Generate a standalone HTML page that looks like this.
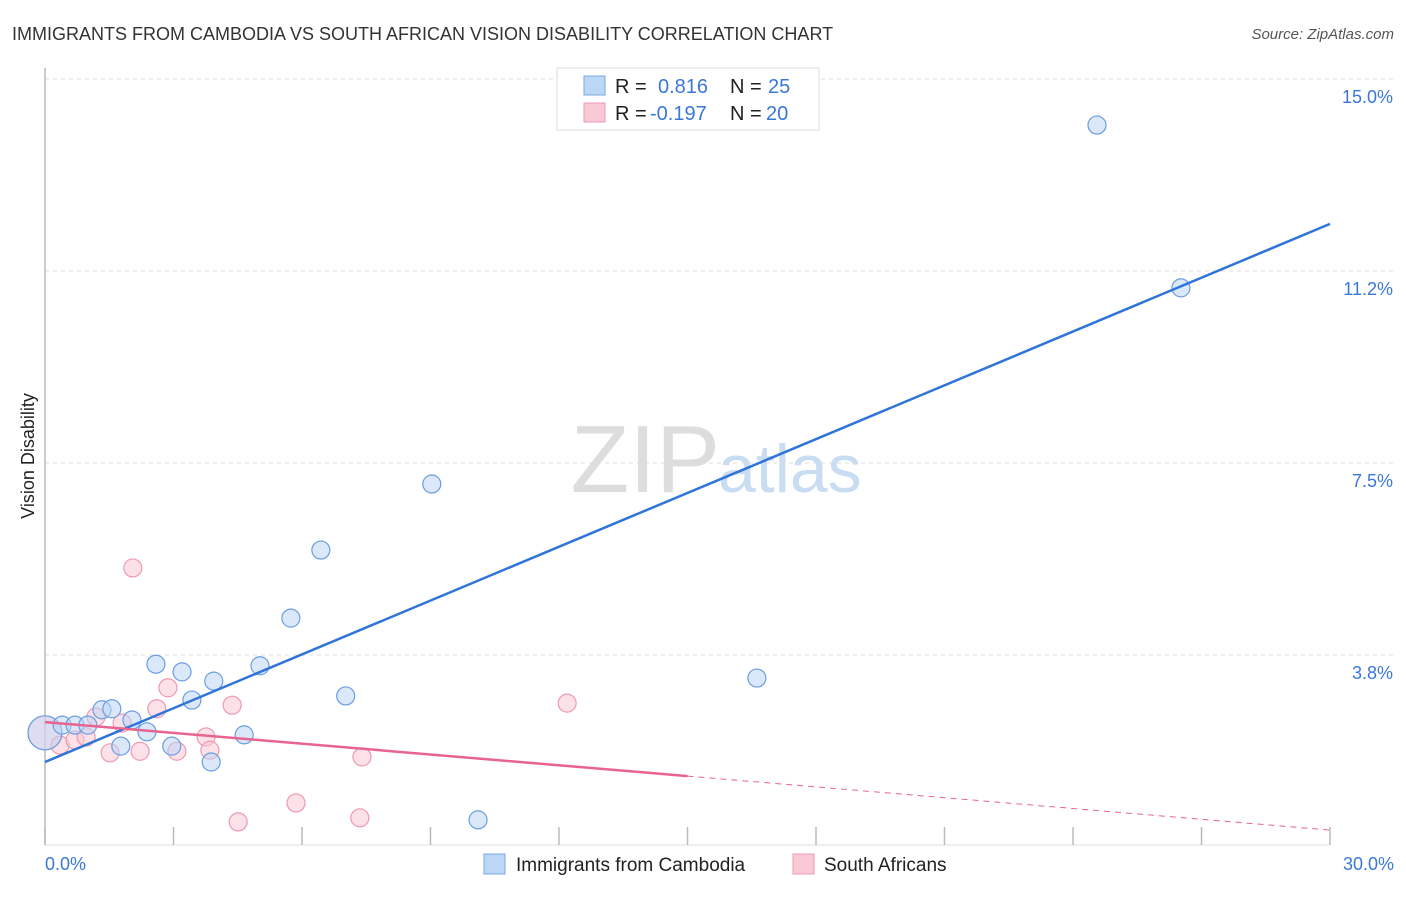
<!DOCTYPE html>
<html><head><meta charset="utf-8"><style>
body{margin:0;background:#fff;font-family:"Liberation Sans",sans-serif;}
svg text{font-family:"Liberation Sans",sans-serif;}
</style></head><body>
<svg id="chart" width="1406" height="892">
<text x="12" y="40" font-size="18" fill="#333">IMMIGRANTS FROM CAMBODIA VS SOUTH AFRICAN VISION DISABILITY CORRELATION CHART</text>
<text x="1394" y="39" font-size="15" fill="#555" font-style="italic" text-anchor="end">Source: ZipAtlas.com</text>
<text x="34" y="456" font-size="18" fill="#222" text-anchor="middle" transform="rotate(-90 34 456)">Vision Disability</text>
<text x="720" y="492" font-size="96" fill="#ddd" text-anchor="end" font-family="Liberation Serif">ZIP</text>
<text x="718" y="492" font-size="68" fill="#c8dcf2">atlas</text>
<g id="grid"></g>
<line x1="45" y1="68" x2="45" y2="845" stroke="#bbb" stroke-width="1.5"/>
<line x1="45" y1="845" x2="1330" y2="845" stroke="#ddd" stroke-width="1"/>
<g id="xticks"></g>
<g id="points"></g>
<g id="trends"></g>
<text x="45" y="870" font-size="18" fill="#3a78d8">0.0%</text>
<text x="1394" y="870" font-size="18" fill="#3a78d8" text-anchor="end">30.0%</text>
<g>
<rect x="557" y="68" width="262" height="62" fill="#fff" stroke="#ddd"/>
<rect x="584" y="76" width="21" height="19" fill="#bcd6f5" stroke="#7aa9e6"/>
<rect x="584" y="103" width="21" height="19" fill="#f9c9d6" stroke="#ec9ab1"/>
<text x="615" y="93" font-size="20" fill="#222">R = </text><text x="658" y="93" font-size="20" fill="#3a78d8">0.816</text>
<text x="730" y="93" font-size="20" fill="#222">N = </text><text x="768" y="93" font-size="20" fill="#3a78d8">25</text>
<text x="615" y="120" font-size="20" fill="#222">R = </text><text x="650" y="120" font-size="20" fill="#3a78d8">-0.197</text>
<text x="730" y="120" font-size="20" fill="#222">N = </text><text x="766" y="120" font-size="20" fill="#3a78d8">20</text>
</g>
<g>
<rect x="484" y="854" width="21" height="20" fill="#bcd6f5" stroke="#7aa9e6"/>
<text x="516" y="871" font-size="19" fill="#222">Immigrants from Cambodia</text>
<rect x="793" y="854" width="21" height="20" fill="#f9c9d6" stroke="#ec9ab1"/>
<text x="824" y="871" font-size="19" fill="#222">South Africans</text>
</g>
</svg>
<script>
const yTicks=[3.75,7.5,11.25,15];
const yTickLabels=["3.8%","7.5%","11.2%","15.0%"];
const xTickVals=[0,3,6,9,12,15,18,21,24,27,30];
const blueX=[0,0.40,0.70,1.00,1.33,1.56,1.77,2.03,2.38,2.59,2.96,3.20,3.43,3.88,3.94,4.65,5.02,5.74,6.44,7.02,9.03,10.11,16.62,24.56,26.52];
const blueY=[2.23,2.38,2.38,2.38,2.68,2.70,1.97,2.48,2.25,3.57,1.97,3.42,2.87,1.66,3.24,2.19,3.54,4.47,5.80,2.95,7.09,0.53,3.30,14.10,10.92];
const pinkX=[0,0.35,0.70,0.96,1.19,1.52,1.80,2.05,2.22,2.61,2.87,3.08,3.76,3.85,4.37,4.51,5.86,7.35,7.40,12.19];
const pinkY=[2.23,1.99,2.09,2.15,2.54,1.84,2.42,5.45,1.87,2.70,3.11,1.87,2.15,1.89,2.77,0.49,0.86,0.57,1.76,2.81];
const blueTrend=[1.66,12.17];
const pinkTrend=[2.44,0.33];
const pinkSolidEnd=15;
const NS="http://www.w3.org/2000/svg";
const X=v=>45+v/30*1285;
const Y=v=>847-v/3.75*192;
function mk(tag,attrs,parent){const e=document.createElementNS(NS,tag);for(const k in attrs)e.setAttribute(k,attrs[k]);document.getElementById(parent).appendChild(e);return e;}
yTicks.forEach((t,i)=>{
 const l=mk('line',{x1:45,x2:1394,y1:Y(t),y2:Y(t),stroke:'#ddd','stroke-dasharray':'4 4'},'grid');
 
 
 const tx=mk('text',{x:1393,y:Y(t)+24,'font-size':18,fill:'#3a78d8','text-anchor':'end'},'grid');
 tx.textContent=yTickLabels[i];
 
 
});
xTickVals.forEach(v=>{
 const l=mk('line',{x1:X(v),x2:X(v),y1:827,y2:845,stroke:'#bbb','stroke-width':1.5},'xticks');
 
 
});
function pts(xs,ys,fill,stroke,name){
 xs.forEach((x,i)=>{
  const r=(i===0)?17:9;
  const c=mk('circle',{cx:X(x),cy:Y(ys[i]),r:r,fill:fill,'fill-opacity':i===0?0.5:0.55,stroke:stroke,'stroke-width':1.2},'points');
  
  
 });
}
pts(pinkX,pinkY,'#f9c9d6','#ec9ab1','point-south-africans');
pts(blueX,blueY,'#bcd6f5','#6a9ee0','point-cambodia');
let l=mk('line',{x1:X(0),y1:Y(blueTrend[0]),x2:X(30),y2:Y(blueTrend[1]),stroke:'#2f74d8','stroke-width':2.5},'trends');


const pAt=v=>pinkTrend[0]+(pinkTrend[1]-pinkTrend[0])*v/30;
l=mk('line',{x1:X(0),y1:Y(pinkTrend[0]),x2:X(pinkSolidEnd),y2:Y(pAt(pinkSolidEnd)),stroke:'#e8648e','stroke-width':2.5},'trends');


l=mk('line',{x1:X(pinkSolidEnd),y1:Y(pAt(pinkSolidEnd)),x2:X(30),y2:Y(pinkTrend[1]),stroke:'#e8648e','stroke-width':1,'stroke-dasharray':'6 5'},'trends');


</script>
</body></html>
